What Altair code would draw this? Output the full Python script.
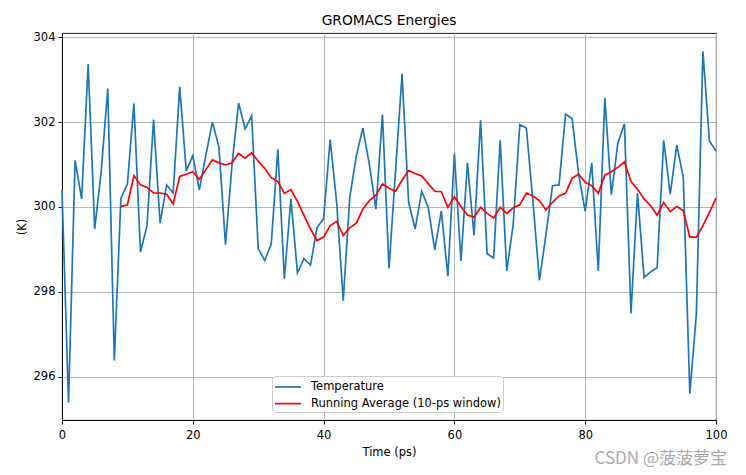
import altair as alt
import pandas as pd

# ---- data ----
time_ps = list(range(0, 101))
temperature = [
    300.40, 295.39, 301.10, 300.19, 303.37, 299.48, 300.85, 302.79, 296.38, 300.20,
    300.54, 302.44, 298.94, 299.56, 302.06, 299.62, 300.52, 300.33, 302.83, 300.85,
    301.21, 300.40, 301.22, 302.00, 301.41, 299.11, 301.01, 302.45, 301.84, 302.15,
    299.02, 298.74, 299.13, 301.36, 298.31, 300.19, 298.45, 298.78, 298.63, 299.52,
    299.72, 301.59, 300.10, 297.79, 300.23, 301.20, 301.86, 301.00, 299.95, 302.18,
    298.55, 300.85, 303.14, 300.11, 299.48, 300.37, 299.99, 298.99, 299.91, 298.37,
    301.26, 298.73, 301.04, 299.33, 302.04, 298.90, 298.80, 301.57, 298.49, 299.60,
    301.94, 301.86, 300.15, 298.27, 299.35, 300.50, 300.52, 302.19, 302.08, 300.77,
    299.90, 301.04, 298.49, 302.57, 300.29, 301.51, 301.96, 297.49, 300.32, 298.34,
    298.47, 298.57, 301.57, 300.30, 301.46, 300.69, 295.60, 297.49, 303.67, 301.55,
    301.32,
]
avg_time_ps = list(range(9, 101))
running_avg = [
    300.01, 300.05, 300.74, 300.52, 300.46, 300.33, 300.33, 300.30, 300.07, 300.72,
    300.77, 300.83, 300.65, 300.88, 301.11, 301.04, 300.99, 301.04, 301.26, 301.15,
    301.28, 301.08, 300.91, 300.69, 300.60, 300.32, 300.41, 300.13, 299.80, 299.48,
    299.21, 299.29, 299.56, 299.66, 299.33, 299.51, 299.62, 299.95, 300.15, 300.28,
    300.54, 300.44, 300.37, 300.63, 300.86, 300.79, 300.73, 300.55, 300.37, 300.36,
    299.99, 300.24, 300.01, 299.81, 299.76, 299.99, 299.85, 299.74, 299.99, 299.85,
    299.98, 300.05, 300.33, 300.26, 300.15, 299.93, 300.11, 300.26, 300.32, 300.68,
    300.77, 300.58, 300.50, 300.32, 300.75, 300.83, 300.94, 301.06, 300.60, 300.42,
    300.19, 300.03, 299.81, 300.11, 299.89, 300.01, 299.91, 299.29, 299.29, 299.56,
    299.87, 300.21,
]
x_ticks = [0, 20, 40, 60, 80, 100]
y_ticks = [296, 298, 300, 302, 304]
series_names = ["Temperature", "Running Average (10-ps window)"]
series_colors = ["#1f77b4", "#ff0000"]
title_text = ["GROMACS Energies"]
watermark_text = ["CSDN @菠菠萝宝"]

FONT = "DejaVu Sans"
W, H = 654, 387

temp_df = pd.DataFrame({"t": time_ps, "v": temperature, "s": series_names[0]})
avg_df = pd.DataFrame({"t": avg_time_ps, "v": running_avg, "s": series_names[1]})

x_enc = alt.X(
    "t:Q",
    scale=alt.Scale(domain=[0, 100], nice=False, zero=False),
    axis=alt.Axis(values=x_ticks, title="Time (ps)", labelPadding=5,
                  titleY=35, titleBaseline="alphabetic"),
)
y_enc = alt.Y(
    "v:Q",
    scale=alt.Scale(domain=[294.98, 304.1], nice=False, zero=False),
    axis=alt.Axis(values=y_ticks, title="(K)", labelPadding=3,
                  titleX=-40, titleY=H / 2, titleAngle=270,
                  titleBaseline="middle", titleAlign="center"),
)
color_enc = alt.Color(
    "s:N",
    scale=alt.Scale(domain=series_names, range=series_colors),
    legend=alt.Legend(
        orient="none", legendX=210, legendY=343, title=None,
        labelFont=FONT, labelFontSize=11.5, labelColor="black", labelLimit=0,
        symbolType="M-1,0H2.25", symbolSize=256, symbolStrokeWidth=1.7,
        fillColor="white", strokeColor="#cccccc", cornerRadius=3,
        padding=2, rowPadding=1.6, labelOffset=19,
    ),
)

temp_line = alt.Chart(temp_df).mark_line(strokeWidth=1.7).encode(
    x=x_enc, y=y_enc, color=color_enc
)
avg_line = alt.Chart(avg_df).mark_line(strokeWidth=1.7).encode(
    x=x_enc, y=y_enc, color=color_enc
)
title_mark = alt.Chart(pd.DataFrame({"w": title_text})).mark_text(
    align="center", baseline="alphabetic", font=FONT, fontSize=13.8, color="black"
).encode(x=alt.value(W / 2), y=alt.value(-8), text="w:N")
watermark = alt.Chart(pd.DataFrame({"w": watermark_text})).mark_text(
    align="right", baseline="alphabetic", font="Noto Sans CJK SC",
    fontSize=17, color="#aaaaaa"
).encode(x=alt.value(665), y=alt.value(430.5), text="w:N")

chart = (
    alt.layer(temp_line, avg_line, title_mark, watermark)
    .properties(
        width=W, height=H,
        padding={"left": 54, "top": 25, "right": 19, "bottom": 47},
        autosize=alt.AutoSizeParams(type="none"),
        background="white",
    )
    .configure_view(stroke="black", strokeWidth=0.9)
    .configure_axis(
        labelFont=FONT, labelFontSize=11.5, labelColor="black",
        titleFont=FONT, titleFontSize=11.5, titleFontWeight="normal", titleColor="black",
        domainColor="black", domainWidth=0.9, tickColor="black", tickWidth=0.9,
        tickSize=4, grid=True, gridColor="#b0b0b0", gridWidth=0.9, labelFlush=False,
    )
)

chart.save("out.html", embed_options={"renderer": "svg", "actions": False})
